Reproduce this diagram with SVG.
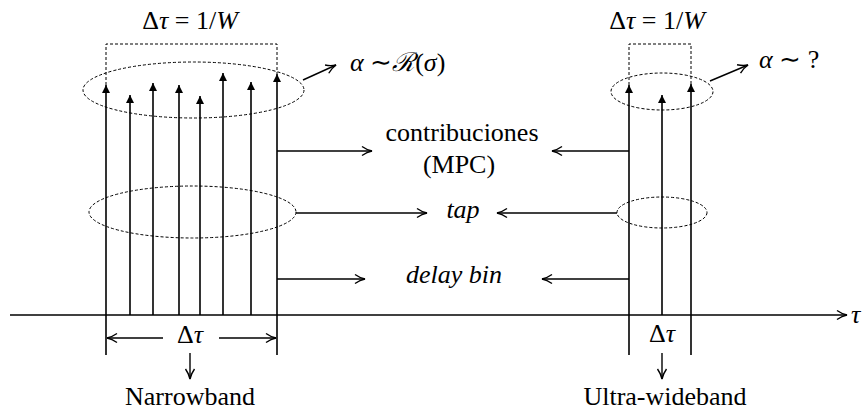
<svg xmlns="http://www.w3.org/2000/svg" width="866" height="412" viewBox="0 0 866 412">
<style>
.dash{stroke:#000;stroke-width:1;fill:none;stroke-dasharray:3,2}
.imp{stroke:#000;stroke-width:1.6;fill:none;marker-end:url(#tri)}
.arr{stroke:#000;stroke-width:1.4;fill:none;marker-end:url(#open)}
text{font-family:'Liberation Serif','Times New Roman',serif;fill:#000;font-size:26px}
.i{font-style:italic}
</style>
<defs>
<marker id="tri" viewBox="0 0 10 10" refX="10" refY="5" markerWidth="11" markerHeight="8" markerUnits="userSpaceOnUse" orient="auto">
<path d="M0,0 L10,5 L0,10 z" fill="#000"/>
</marker>
<marker id="open" viewBox="0 0 12 12" refX="11" refY="6" markerWidth="12" markerHeight="12" markerUnits="userSpaceOnUse" orient="auto">
<path d="M1,1.5 Q6,5 11,6 Q6,7 1,10.5" fill="none" stroke="#000" stroke-width="1.4"/>
</marker>
</defs>

<g id="axis">
<line class="arr" x1="10" y1="315" x2="847" y2="315"/>
<text class="i" x="851" y="323">τ</text>
</g>

<g id="narrowband">
<path class="dash" d="M106,85 V44 H277 V74"/>
<line class="imp" x1="106" y1="355" x2="106" y2="85"/>
<line class="imp" x1="130" y1="315" x2="130" y2="95"/>
<line class="imp" x1="153" y1="315" x2="153" y2="83"/>
<line class="imp" x1="179" y1="315" x2="179" y2="85"/>
<line class="imp" x1="200" y1="315" x2="200" y2="96"/>
<line class="imp" x1="223" y1="315" x2="223" y2="73"/>
<line class="imp" x1="251" y1="315" x2="251" y2="82"/>
<line class="imp" x1="277" y1="355" x2="277" y2="74"/>
<ellipse class="dash" cx="193.5" cy="90" rx="110.5" ry="28"/>
<ellipse class="dash" cx="192.5" cy="212" rx="103.5" ry="26"/>
<text x="190" y="29" text-anchor="middle">Δ<tspan class="i">τ</tspan> = 1/<tspan class="i">W</tspan></text>
<text x="350" y="71"><tspan class="i">α</tspan> ∼<tspan font-family="DejaVu Serif,serif" font-style="italic">ℛ</tspan>(<tspan class="i">σ</tspan>)</text>
<text x="190" y="343" text-anchor="middle">Δ<tspan class="i">τ</tspan></text>
<text x="190" y="405" text-anchor="middle">Narrowband</text>
</g>

<g id="ultrawideband">
<path class="dash" d="M629,85 V44 H691 V84"/>
<line class="imp" x1="629" y1="355" x2="629" y2="85"/>
<line class="imp" x1="662" y1="315" x2="662" y2="95"/>
<line class="imp" x1="691" y1="355" x2="691" y2="84"/>
<ellipse class="dash" cx="662" cy="91.5" rx="51" ry="18.5"/>
<ellipse class="dash" cx="662" cy="212.5" rx="45" ry="15.5"/>
<text x="657" y="29" text-anchor="middle">Δ<tspan class="i">τ</tspan> = 1/<tspan class="i">W</tspan></text>
<text x="759" y="68"><tspan class="i">α</tspan> ∼ ?</text>
<text x="662" y="342" text-anchor="middle">Δ<tspan class="i">τ</tspan></text>
<text x="665" y="405" text-anchor="middle">Ultra-wideband</text>
</g>

<g id="middle-labels">
<text x="462" y="141" text-anchor="middle">contribuciones</text>
<text x="459" y="173" text-anchor="middle">(MPC)</text>
<text class="i" x="463" y="218" text-anchor="middle">tap</text>
<text class="i" x="454" y="283" text-anchor="middle">delay bin</text>
</g>

<g id="connectors">
<line class="arr" x1="303" y1="80" x2="336" y2="65"/>
<line class="arr" x1="710" y1="81" x2="748" y2="65"/>
<line class="arr" x1="277" y1="151" x2="372" y2="151"/>
<line class="arr" x1="296" y1="213" x2="427" y2="213"/>
<line class="arr" x1="277" y1="279" x2="365" y2="279"/>
<line class="arr" x1="629" y1="151" x2="552" y2="151"/>
<line class="arr" x1="617" y1="213" x2="497" y2="213"/>
<line class="arr" x1="629" y1="279" x2="542" y2="279"/>
<line class="arr" x1="163" y1="338" x2="107" y2="338"/>
<line class="arr" x1="219" y1="338" x2="276" y2="338"/>
<line class="arr" x1="190" y1="353" x2="190" y2="379"/>
<line class="arr" x1="662" y1="353" x2="662" y2="379"/>
</g>
</svg>
